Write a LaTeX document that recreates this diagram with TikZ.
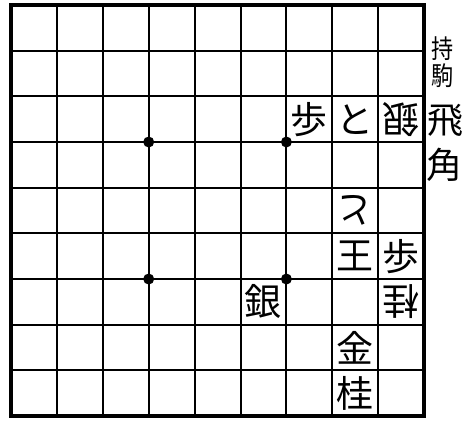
\documentclass[tikz,border=0pt]{standalone}
\usepackage{fontspec}
\newfontfamily\cjk{Noto Sans CJK JP}
\begin{document}
\begin{tikzpicture}[x=1pt,y=1pt,
  piece/.style={inner sep=0pt,font=\cjk\fontsize{37}{37}\selectfont},
  gote/.style={piece,rotate=180},
  hand/.style={inner sep=0pt,xscale=0.85,font=\cjk\fontsize{26}{26}\selectfont},
  handpiece/.style={inner sep=0pt,font=\cjk\fontsize{36}{36}\selectfont},
  gridline/.style={line width=2pt,black},
  border/.style={line width=3.6pt,black},
  star/.style={circle,fill=black,inner sep=0pt,minimum size=11pt}]
\useasboundingbox (0,0) rectangle (462,420);
\fill[white] (0,0) rectangle (462,420);
\begin{scope}[shift={(11,415)},x=45.9pt,y=-45.67pt]
  \foreach \i in {1,...,8} {
    \draw[gridline] (\i,0) -- (\i,9);
    \draw[gridline] (0,\i) -- (9,\i);
  }
  \draw[border] (0,0) rectangle (9,9);
  \node[star] (s1) at (3,3) {};
  \node[star] (s2) at (6,3) {};
  \node[star] (s3) at (3,6) {};
  \node[star] (s4) at (6,6) {};
  % pieces
  \node[piece] (p73) at (6.5,2.5) {歩};
  \node[piece] (p83) at (7.5,2.5) {と};
  \node[gote]  (p93) at (8.5,2.5) {銀};
  \node[gote]  (p85) at (7.5,4.5) {と};
  \node[piece] (p86) at (7.5,5.5) {王};
  \node[piece] (p96) at (8.5,5.5) {歩};
  \node[piece] (p67) at (5.5,6.5) {銀};
  \node[gote]  (p97) at (8.5,6.5) {桂};
  \node[piece] (p88) at (7.5,7.5) {金};
  \node[piece] (p89) at (7.5,8.5) {桂};
  % pieces in hand
  \node[hand] (h1) at (9.40,0.963) {持};
  \node[hand] (h2) at (9.40,1.555) {駒};
  \node[handpiece] (h3) at (9.465,2.518) {飛};
  \node[handpiece] (h4) at (9.45,3.50) {角};
\end{scope}
\end{tikzpicture}
\end{document}
